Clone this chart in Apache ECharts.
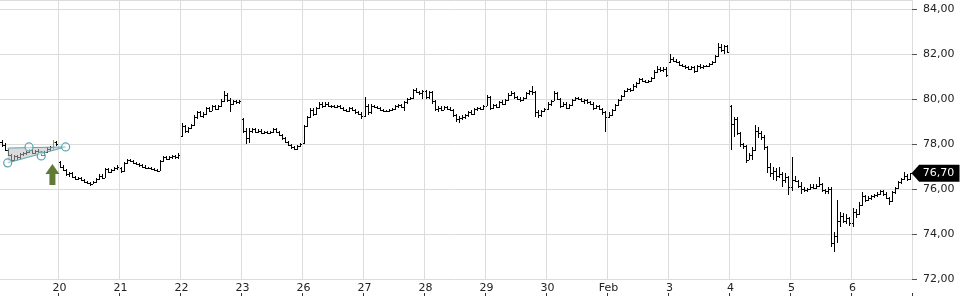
<!DOCTYPE html>
<html>
<head>
<meta charset="utf-8">
<script src="https://cdn.jsdelivr.net/npm/echarts@6/dist/echarts.min.js"></script>
<style>html,body{margin:0;padding:0;background:#fff;}#c{width:960px;height:300px;}</style>
</head>
<body>
<div id="c"></div>
<script>
// Day labels (trading days, Jan 19 .. Feb 6)
const dayLabels = ['19','20','21','22','23','26','27','28','29','30','Feb','3','4','5','6'];
// Y-axis tick values
const yTicks = [72, 74, 76, 78, 80, 82, 84];
// Bars per day as [open, high, low, close]
const d19 = [[78.05,78.25,77.95,78.1],[78.1,78.2,77.85,77.95],[77.95,78.05,77.7,77.75],[77.75,77.8,77.45,77.5],[77.5,77.55,77.2,77.3],[77.3,77.5,77.25,77.45],[77.45,77.5,77.3,77.4],[77.4,77.6,77.35,77.55],[77.55,77.65,77.45,77.6],[77.6,77.7,77.5,77.65],[77.65,77.8,77.6,77.75],[77.75,77.8,77.55,77.6],[77.6,77.75,77.55,77.7],[77.7,77.8,77.6,77.65],[77.65,77.7,77.45,77.5],[77.5,77.7,77.45,77.65],[77.65,77.85,77.6,77.8],[77.8,77.9,77.7,77.85],[77.85,78.2,77.75,78.1],[78.1,78.15,77.9,78.0]];
const d20 = [[77.2,77.25,76.95,77.0],[77.0,77.05,76.8,76.85],[76.85,76.9,76.6,76.65],[76.65,76.75,76.55,76.7],[76.7,76.75,76.5,76.55],[76.55,76.6,76.4,76.45],[76.45,76.55,76.4,76.5],[76.5,76.55,76.35,76.4],[76.4,76.45,76.25,76.3],[76.3,76.35,76.2,76.25],[76.25,76.3,76.15,76.2],[76.2,76.35,76.2,76.3],[76.3,76.5,76.25,76.45],[76.45,76.65,76.4,76.6],[76.6,76.65,76.45,76.5],[76.5,76.95,76.5,76.9],[76.9,76.95,76.7,76.75],[76.75,76.9,76.7,76.85],[76.85,77.0,76.8,76.95],[76.95,77.05,76.85,77.0]];
const d21 = [[76.95,77.0,76.7,76.8],[76.8,77.2,76.75,77.15],[77.15,77.35,77.1,77.3],[77.3,77.35,77.2,77.25],[77.25,77.3,77.1,77.15],[77.15,77.2,77.05,77.1],[77.1,77.15,77.0,77.05],[77.05,77.1,76.95,77.0],[77.0,77.05,76.9,76.95],[76.95,77.0,76.9,76.95],[76.95,77.0,76.85,76.9],[76.9,76.95,76.8,76.85],[76.85,76.9,76.75,76.8],[76.8,77.3,76.8,77.25],[77.25,77.45,77.2,77.4],[77.4,77.45,77.3,77.35],[77.35,77.45,77.3,77.4],[77.4,77.5,77.35,77.45],[77.45,77.5,77.35,77.4],[77.4,77.6,77.35,77.5]];
const d22 = [[78.35,78.95,78.3,78.8],[78.8,78.85,78.5,78.6],[78.6,78.75,78.5,78.7],[78.7,78.9,78.65,78.85],[78.85,79.3,78.8,79.2],[79.2,79.45,79.1,79.4],[79.4,79.45,79.2,79.25],[79.25,79.4,79.15,79.35],[79.35,79.65,79.3,79.6],[79.6,79.65,79.4,79.45],[79.45,79.75,79.45,79.7],[79.7,79.75,79.5,79.55],[79.55,79.75,79.5,79.7],[79.7,80.0,79.65,79.9],[79.9,80.35,79.85,80.2],[80.2,80.25,79.85,79.95],[79.95,80.05,79.4,79.8],[79.8,79.95,79.75,79.9],[79.9,79.95,79.8,79.85],[79.85,79.95,79.8,79.9]];
const d23 = [[79.1,79.15,78.5,78.6],[78.6,78.7,78.0,78.25],[78.25,78.7,78.05,78.6],[78.6,78.7,78.5,78.65],[78.65,78.7,78.5,78.55],[78.55,78.65,78.5,78.6],[78.6,78.65,78.45,78.5],[78.5,78.6,78.45,78.55],[78.55,78.6,78.45,78.5],[78.5,78.6,78.45,78.55],[78.55,78.7,78.5,78.65],[78.65,78.7,78.5,78.55],[78.55,78.6,78.35,78.4],[78.4,78.45,78.2,78.25],[78.25,78.3,78.05,78.1],[78.1,78.15,77.9,77.95],[77.95,78.0,77.8,77.85],[77.85,77.9,77.75,77.8],[77.8,77.95,77.75,77.9],[77.9,78.05,77.85,78.0]];
const d26 = [[78.05,78.85,78.0,78.8],[78.8,79.25,78.75,79.2],[79.2,79.6,79.15,79.5],[79.5,79.6,79.25,79.35],[79.35,79.65,79.3,79.6],[79.6,79.85,79.55,79.8],[79.8,79.85,79.6,79.7],[79.7,79.85,79.65,79.8],[79.8,79.85,79.65,79.7],[79.7,79.75,79.6,79.7],[79.7,79.75,79.6,79.65],[79.65,79.75,79.6,79.7],[79.7,79.75,79.55,79.6],[79.6,79.65,79.45,79.5],[79.5,79.55,79.4,79.45],[79.45,79.65,79.4,79.6],[79.6,79.65,79.45,79.5],[79.5,79.55,79.35,79.4],[79.4,79.45,79.3,79.35],[79.35,79.4,79.1,79.25]];
const d27 = [[79.25,80.1,79.2,79.7],[79.7,79.8,79.3,79.4],[79.4,79.8,79.35,79.7],[79.7,79.75,79.6,79.65],[79.65,79.7,79.55,79.6],[79.6,79.65,79.45,79.5],[79.5,79.55,79.4,79.45],[79.45,79.5,79.4,79.45],[79.45,79.55,79.4,79.5],[79.5,79.6,79.45,79.55],[79.55,79.75,79.5,79.7],[79.7,79.8,79.6,79.75],[79.75,79.8,79.6,79.65],[79.65,79.9,79.45,79.85],[79.85,80.05,79.8,80.0],[80.0,80.1,79.95,80.05],[80.05,80.45,80.0,80.4],[80.4,80.5,80.25,80.3],[80.3,80.35,80.2,80.25],[80.25,80.4,80.0,80.35]];
const d28 = [[80.35,80.4,80.0,80.1],[80.1,80.35,80.0,80.3],[80.3,80.35,79.8,79.9],[79.9,79.95,79.45,79.55],[79.55,79.7,79.4,79.6],[79.6,79.7,79.45,79.5],[79.5,79.7,79.5,79.65],[79.65,79.7,79.5,79.55],[79.55,79.65,79.45,79.5],[79.5,79.55,79.2,79.3],[79.3,79.35,79.0,79.1],[79.1,79.25,78.95,79.15],[79.15,79.3,79.05,79.2],[79.2,79.35,79.1,79.3],[79.3,79.45,79.2,79.4],[79.4,79.5,79.3,79.35],[79.35,79.6,79.3,79.55],[79.55,79.65,79.45,79.6],[79.6,79.65,79.5,79.55],[79.55,79.75,79.5,79.7]];
const d29 = [[79.7,80.2,79.7,80.1],[80.1,80.15,79.5,79.6],[79.6,79.8,79.55,79.75],[79.75,79.8,79.6,79.65],[79.65,79.9,79.6,79.85],[79.85,79.95,79.75,79.8],[79.8,80.0,79.75,79.95],[79.95,80.25,79.9,80.2],[80.2,80.35,80.15,80.25],[80.25,80.3,80.0,80.1],[80.1,80.15,79.95,80.0],[80.0,80.1,79.85,79.95],[79.95,80.1,79.9,80.05],[80.05,80.3,80.0,80.25],[80.25,80.4,80.2,80.35],[80.35,80.6,80.2,80.3],[80.3,80.35,79.2,79.4],[79.4,79.5,79.15,79.3],[79.3,79.5,79.2,79.45],[79.45,79.6,79.4,79.55]];
const d30 = [[79.55,79.85,79.5,79.8],[79.8,79.95,79.7,79.9],[79.9,80.35,79.9,80.25],[80.25,80.3,79.95,80.0],[80.0,80.05,79.6,79.7],[79.7,79.85,79.65,79.8],[79.8,79.85,79.55,79.6],[79.6,79.8,79.55,79.75],[79.75,80.0,79.7,79.95],[79.95,80.1,79.9,80.05],[80.05,80.1,79.95,80.0],[80.0,80.05,79.85,79.9],[79.9,80.0,79.8,79.95],[79.95,80.0,79.8,79.85],[79.85,79.9,79.75,79.8],[79.8,79.85,79.5,79.6],[79.6,79.75,79.55,79.7],[79.7,79.75,79.5,79.55],[79.55,79.6,79.3,79.4],[79.4,79.45,78.55,79.2]];
const f02 = [[79.2,79.4,79.15,79.3],[79.3,79.55,79.25,79.5],[79.5,79.8,79.45,79.75],[79.75,80.0,79.7,79.95],[79.95,80.2,79.9,80.15],[80.15,80.4,80.1,80.35],[80.35,80.5,80.3,80.45],[80.45,80.5,80.3,80.4],[80.4,80.65,80.35,80.6],[80.6,80.75,80.5,80.7],[80.7,80.95,80.65,80.9],[80.9,80.95,80.75,80.8],[80.8,80.85,80.7,80.75],[80.75,80.85,80.7,80.8],[80.8,81.0,80.75,80.95],[80.95,81.3,80.9,81.2],[81.2,81.45,81.15,81.35],[81.35,81.4,81.2,81.3],[81.3,81.4,81.2,81.35],[81.35,81.4,81.0,81.05]];
const f03 = [[81.65,82.0,81.6,81.8],[81.8,81.85,81.65,81.7],[81.7,81.8,81.6,81.65],[81.65,81.7,81.45,81.5],[81.5,81.55,81.4,81.45],[81.45,81.5,81.35,81.4],[81.4,81.45,81.3,81.35],[81.35,81.45,81.3,81.4],[81.4,81.45,81.15,81.25],[81.25,81.5,81.2,81.45],[81.45,81.55,81.35,81.4],[81.4,81.5,81.35,81.45],[81.45,81.5,81.4,81.45],[81.45,81.6,81.4,81.55],[81.55,81.7,81.5,81.65],[81.65,81.95,81.6,81.9],[81.9,82.5,81.85,82.3],[82.3,82.45,82.1,82.2],[82.2,82.4,82.0,82.35],[82.35,82.4,82.05,82.1]];
const f04 = [[79.7,79.75,77.75,78.9],[78.9,79.2,78.3,79.1],[79.1,79.2,78.4,78.5],[78.5,78.55,77.85,78.0],[78.0,78.05,77.8,77.9],[77.9,77.95,77.15,77.3],[77.3,77.6,77.3,77.5],[77.5,77.85,77.3,77.75],[77.75,78.85,77.7,78.6],[78.6,78.75,78.25,78.5],[78.5,78.6,78.2,78.3],[78.3,78.4,77.75,77.85],[77.85,77.9,76.7,77.0],[77.0,77.15,76.55,76.7],[76.7,77.0,76.4,76.8],[76.8,76.95,76.35,76.6],[76.6,77.0,76.5,76.65],[76.65,76.75,76.1,76.4],[76.4,76.7,76.25,76.55],[76.55,76.6,75.75,76.1]];
const f05 = [[76.1,77.4,75.9,76.4],[76.4,76.6,76.3,76.35],[76.35,76.4,76.05,76.15],[76.15,76.3,75.8,76.0],[76.0,76.1,75.85,75.95],[75.95,76.05,75.85,76.0],[76.0,76.2,75.95,76.1],[76.1,76.2,76.0,76.05],[76.05,76.2,76.0,76.15],[76.15,76.55,76.1,76.2],[76.2,76.25,75.85,75.95],[75.95,76.0,75.8,75.9],[75.9,76.1,75.8,76.0],[76.0,76.1,73.4,73.6],[73.6,74.1,73.2,73.9],[73.9,75.5,73.6,74.6],[74.6,75.0,74.3,74.8],[74.8,74.95,74.5,74.6],[74.6,74.9,74.45,74.7],[74.7,74.75,74.35,74.5]];
const f06 = [[74.5,75.15,74.3,75.0],[75.0,75.1,74.7,74.9],[74.9,75.4,74.85,75.3],[75.3,75.85,75.25,75.7],[75.7,75.75,75.4,75.5],[75.5,75.7,75.45,75.6],[75.6,75.75,75.5,75.7],[75.7,75.8,75.6,75.75],[75.75,75.85,75.65,75.8],[75.8,75.95,75.75,75.9],[75.9,75.95,75.7,75.8],[75.8,75.85,75.55,75.6],[75.6,75.65,75.3,75.45],[75.45,75.9,75.4,75.85],[75.85,76.1,75.8,76.05],[76.05,76.35,76.0,76.3],[76.3,76.5,76.2,76.45],[76.45,76.75,76.4,76.6],[76.6,76.65,76.35,76.45],[76.45,76.7,76.4,76.7]];
const dayBars = [d19,d20,d21,d22,d23,d26,d27,d28,d29,d30,f02,f03,f04,f05,f06];

// Drawing annotation (triangle pattern) points: [bar index, price]
const triFill = [[3,77.16],[3,77.82],[22,77.87]];
const triTopLine = [[3,77.82],[22,77.87]];
const triDiagLine = [[3,77.16],[22,77.87]];
const triCircles = [[3,77.16],[10,77.87],[14,77.47],[22,77.87]];
// Signal arrow: [bar index, price]
const signalBar = 18;
const signalArrow = [18, 76.64];

// Build categories and series data
const categories = [];
const ohlc = [];
dayBars.forEach((bars, d) => {
  bars.forEach((b, i) => {
    categories.push(dayLabels[d] + '_' + i);
    ohlc.push([ohlc.length, b[0], b[1], b[2], b[3]]);
  });
});
const perDay = d19.length;
const lastClose = ohlc[ohlc.length - 1][4];
const dayStart = (idx) => idx % perDay === 0;
const fmt = v => v.toFixed(2).replace('.', ',');

const chart = echarts.init(document.getElementById('c'), null, {renderer: 'canvas'});
chart.setOption({
  animation: false,
  backgroundColor: '#ffffff',
  grid: {left: -3, right: 48, top: 0, bottom: 21, outerBoundsMode: 'none'},
  xAxis: [{
    type: 'category', data: categories, boundaryGap: true,
    axisLine: {show: false}, axisTick: {show: false},
    axisLabel: {interval: (i) => dayStart(i) && i > 0, formatter: v => v.split('_')[0],
      margin: 4, fontFamily: 'DejaVu Sans', fontSize: 11, color: '#222'},
    splitLine: {show: true, interval: (i) => dayStart(i), lineStyle: {color: '#dcdcdc', width: 1}}
  }, {
    type: 'category', data: categories, boundaryGap: true, position: 'bottom', offset: 14,
    axisLine: {show: false}, axisLabel: {show: false}, splitLine: {show: false},
    axisTick: {show: true, interval: (i) => dayStart(i) && i > 0, length: 3, lineStyle: {color: '#333'}}
  }],
  yAxis: {
    type: 'value', position: 'right', min: 72, max: 84.4, interval: 2,
    axisLine: {show: false},
    axisTick: {show: true, length: 5, lineStyle: {color: '#555'}},
    axisLabel: {showMaxLabel: false, margin: 11, formatter: fmt, fontFamily: 'DejaVu Sans', fontSize: 11, color: '#222'},
    splitLine: {show: true, lineStyle: {color: '#dcdcdc', width: 1}}
  },
  series: [{
    type: 'custom', name: 'price', xAxisIndex: 0,
    data: ohlc, encode: {x: 0, y: [1, 2, 3, 4]},
    clip: true,
    renderItem: function (params, api) {
      const idx = api.value(0);
      const pO = api.coord([idx, api.value(1)]);
      const pH = api.coord([idx, api.value(2)]);
      const pL = api.coord([idx, api.value(3)]);
      const pC = api.coord([idx, api.value(4)]);
      const x = Math.round(pH[0]);
      const top = Math.round(pH[1]);
      const bot = Math.round(pL[1]);
      const color = idx === signalBar ? '#9a9a48' : '#000';
      return {type: 'group', children: [
        {type: 'rect', shape: {x: x, y: top, width: 1, height: Math.max(1, bot - top)}, style: {fill: color}},
        {type: 'rect', shape: {x: x - 1, y: Math.round(pO[1]), width: 1, height: 1}, style: {fill: color}},
        {type: 'rect', shape: {x: x + 1, y: Math.round(pC[1]), width: 1, height: 1}, style: {fill: color}}
      ]};
    },
    markPoint: {
      silent: true,
      data: [{
        coord: [ohlc.length - 1, lastClose],
        symbol: 'path://M0,8L8,0L50,0L50,16L8,16Z', symbolSize: [48, 17], symbolOffset: [25, 0],
        itemStyle: {color: '#000'},
        label: {show: true, position: 'inside', offset: [3, 0], formatter: fmt(lastClose), color: '#fff', fontFamily: 'DejaVu Sans', fontSize: 11}
      }, {
        coord: signalArrow,
        symbol: 'path://M7,0L14,10L10,10L10,21L4,21L4,10L0,10Z', symbolSize: [14, 21], symbolOffset: [-1, 0],
        itemStyle: {color: '#617a35'}, label: {show: false}
      }]
    }
  }, {
    type: 'custom', name: 'drawing', xAxisIndex: 0, silent: true,
    data: [[0, 0]],
    renderItem: function (params, api) {
      const toPts = arr => arr.map(p => api.coord(p));
      const children = [];
      children.push({type: 'polygon', shape: {points: toPts(triFill)}, style: {fill: 'rgba(190,190,190,0.55)'}});
      children.push({type: 'polyline', shape: {points: toPts(triTopLine)}, style: {stroke: '#5aa7b0', lineWidth: 1, fill: null}});
      children.push({type: 'polyline', shape: {points: toPts(triDiagLine)}, style: {stroke: '#5aa7b0', lineWidth: 1, fill: null}});
      toPts(triCircles).forEach(p => children.push({type: 'circle', shape: {cx: p[0], cy: p[1], r: 4}, style: {fill: 'rgba(255,255,255,0.5)', stroke: '#5aa7b0', lineWidth: 1.2}}));
      return {type: 'group', children: children};
    }
  }]
});
</script>
</body>
</html>
